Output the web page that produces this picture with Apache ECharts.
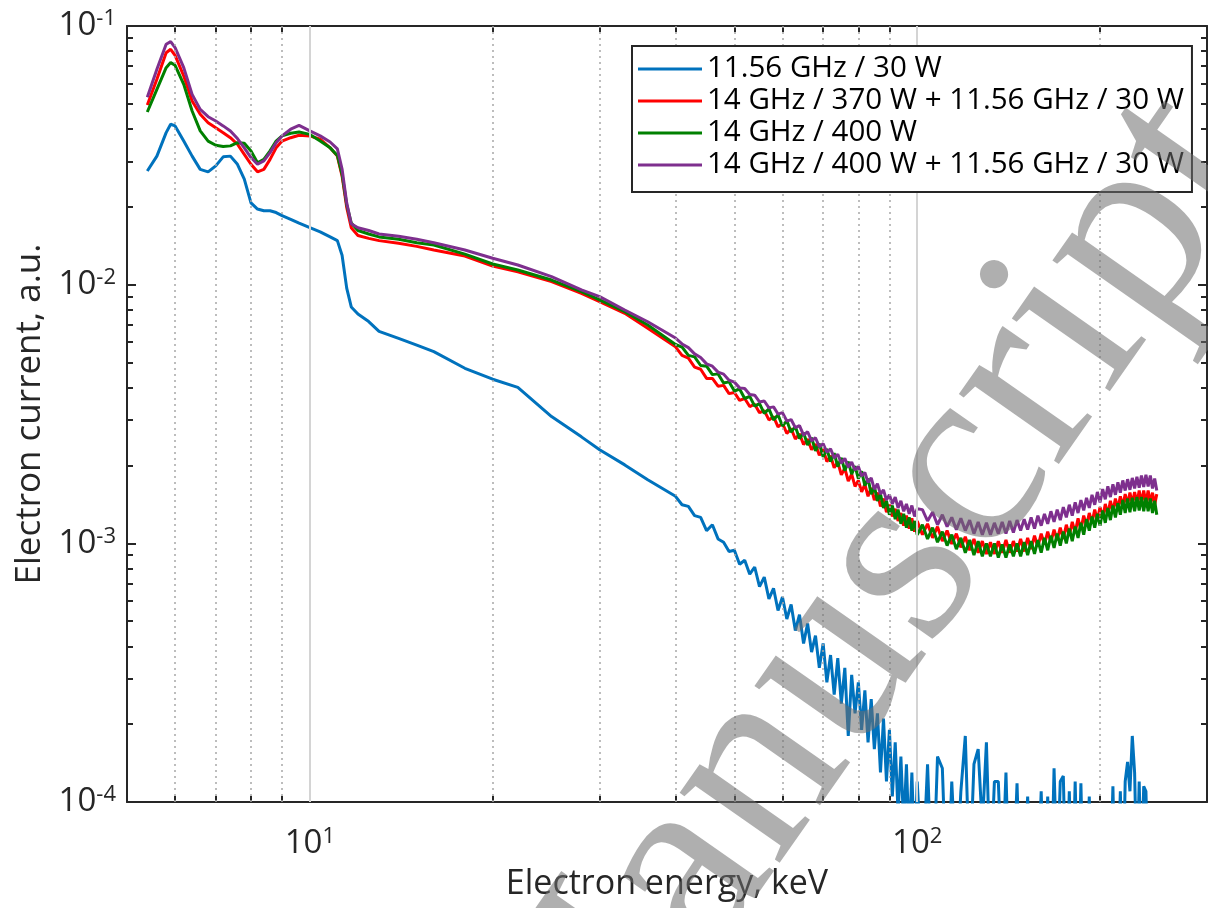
<!DOCTYPE html>
<html>
<head>
<meta charset="utf-8">
<script src="https://cdn.jsdelivr.net/npm/echarts@6/dist/echarts.min.js"></script>
<style>
html,body{margin:0;padding:0;background:#fff;}
#chart{width:1208px;height:908px;}
</style>
</head>
<body>
<div id="chart"></div>
<script>
// Electron energy (keV)
const energy = [5.4,5.6,5.8,5.9,6.0,6.2,6.4,6.6,6.8,7.0,7.2,7.4,7.6,7.8,8.0,8.2,8.4,8.6,8.8,9.0,9.3,9.6,10,10.4,10.8,11.1,11.3,11.5,11.7,12.0,12.5,13,14,15,16,18,20,22,25,28,30,33,36,
40,41,42,43,44,45,46,47,48,49,50,51,52,53,54,55,56,57,58,59,60,61,62,63,64,65,66,67,68,69,70,71,72,73,74,75,76,77,78,79,80,81,82,83,84,85,86,87,88,89,90,91,92,93,94,95,96,97,98,99,100,
102,104,106,108,110,112,114,116,118,120,122,124,126,128,130,132,134,136,138,140,142,144,146,148,150,152,154,156,158,160,162,164,166,168,170,172,174,176,178,180,182,184,186,188,190,192,194,196,198,200,202,204,206,208,210,212,214,216,218,220,222,224,226,228,230,232,234,236,238,240,242,244,246,248];

const seriesNames = ['11.56 GHz / 30 W','14 GHz / 370 W + 11.56 GHz / 30 W','14 GHz / 400 W','14 GHz / 400 W + 11.56 GHz / 30 W'];
const seriesColors = ['#0072BD','#FF0000','#008000','#7E2F8E'];

const blue = [0.0275,0.0314,0.0387,0.0417,0.0411,0.0359,0.0314,0.0279,0.0273,0.0288,0.0312,0.0314,0.0292,0.0256,0.0207,0.0196,0.0193,0.0193,0.019,0.0185,0.0179,0.0173,0.0166,0.016,0.0153,0.0148,0.013,0.0097,0.0082,0.0077,0.0072,0.0066,0.0062,0.00584,0.00551,0.00475,0.00431,0.00401,0.00309,0.00258,0.0023,0.00201,0.00176,
0.00152,0.00141,0.00139,0.00128,0.00126,0.00112,0.00118,0.00104,0.00101,0.00093,0.00094,0.00083,0.00086,0.00076,0.00081,0.00068,0.00074,0.00061,0.00067,0.00055,0.00062,0.00051,0.00058,0.00046,0.00053,0.00041,0.00049,0.00038,0.00044,0.00033,0.00041,0.00029,0.00037,0.00026,0.00036,0.00024,0.00033,0.00018,0.00031,0.00022,0.00029,0.00019,0.00027,0.00017,0.00025,0.00016,0.00022,0.00013,0.00021,0.00012,0.00019,0.000105,0.00017,0.00009,0.00015,0.00008,0.00014,0.00007,0.00013,0.00006,0.00012,
0.00005,0.00014,0.00004,0.00015,0.000135,0.00004,0.00012,0.00005,0.00011,0.00018,0.00005,0.00014,0.00016,0.00008,0.00017,0.00005,0.00012,0.00012,0.00005,0.00013,0.00004,0.00005,0.000118,0.00004,0.00005,0.000105,0.00004,0.00004,0.00005,0.00011,0.00004,0.000105,0.00004,0.000135,0.00005,0.00012,0.000126,0.00004,0.00011,0.00004,0.00012,0.00004,0.000118,0.00004,0.00005,0.000105,0.00004,0.00004,0.00005,0.00004,0.00004,0.00005,0.00004,0.00005,0.000115,0.00004,0.00005,0.00011,0.00004,0.00012,0.000143,0.00011,0.00018,0.00013,0.00005,0.00012,0.00005,0.000115,0.00011,0.00005,0.00004,0.00004,0.00004,0.00004];

const red = [0.0495,0.0622,0.0788,0.0813,0.077,0.0641,0.0513,0.0456,0.0423,0.0404,0.0387,0.037,0.0349,0.0319,0.0292,0.0273,0.0279,0.0305,0.0338,0.0359,0.037,0.0378,0.0376,0.0365,0.0338,0.0314,0.0263,0.0199,0.0166,0.0155,0.0151,0.0148,0.01445,0.01406,0.01361,0.0129,0.0118,0.01122,0.01027,0.00926,0.0086,0.00775,0.00678,
0.00575,0.00533,0.00520,0.00480,0.00471,0.00434,0.00434,0.00405,0.00408,0.00379,0.00383,0.00357,0.00363,0.00338,0.00345,0.00320,0.00326,0.00300,0.00309,0.00282,0.00291,0.00266,0.00278,0.00253,0.00265,0.00241,0.00253,0.00230,0.00242,0.00219,0.00231,0.00207,0.00218,0.00196,0.00206,0.00184,0.00195,0.00174,0.00185,0.00166,0.00175,0.00158,0.00169,0.00152,0.00164,0.00147,0.00157,0.00139,0.00149,0.00132,0.00141,0.00127,0.00136,0.00122,0.00131,0.00117,0.00128,0.00114,0.00125,0.00111,0.00122,
0.00108,0.00119,0.00105,0.00116,0.00102,0.00112,0.000995,0.00109,0.000965,0.00106,0.00094,0.00104,0.00092,0.00102,0.00091,0.00101,0.00091,0.00102,0.00092,0.00103,0.00092,0.00102,0.00093,0.00104,0.00093,0.00105,0.00095,0.00107,0.00097,0.00109,0.00099,0.00111,0.00101,0.00113,0.00103,0.00115,0.00104,0.00118,0.00107,0.00121,0.0011,0.00125,0.00113,0.00128,0.00117,0.00131,0.0012,0.00135,0.00123,0.00138,0.00125,0.00142,0.00129,0.00146,0.00133,0.00149,0.00136,0.00152,0.00139,0.00155,0.00141,0.00157,0.00142,0.00158,0.00143,0.0016,0.00143,0.0016,0.00143,0.0016,0.00143,0.00157,0.00141,0.00155];

const green = [0.0465,0.0569,0.069,0.0722,0.0705,0.0595,0.0469,0.0393,0.0359,0.0346,0.0342,0.0344,0.0354,0.0352,0.0329,0.0296,0.0305,0.0329,0.0359,0.0376,0.0385,0.0389,0.0381,0.0359,0.0338,0.0316,0.0267,0.0204,0.0173,0.0162,0.0157,0.0153,0.01498,0.01453,0.01424,0.01313,0.01202,0.0114,0.01042,0.0094,0.00873,0.00786,0.00698,
0.00587,0.00574,0.00533,0.00526,0.00487,0.00484,0.00449,0.00452,0.00417,0.00421,0.00388,0.00395,0.00363,0.00370,0.00339,0.00347,0.00318,0.00331,0.00300,0.00314,0.00284,0.00298,0.00269,0.00283,0.00254,0.00268,0.00240,0.00256,0.00228,0.00243,0.00216,0.00232,0.00207,0.00223,0.00198,0.00214,0.00191,0.00207,0.00185,0.00199,0.00178,0.00190,0.00167,0.00178,0.00155,0.00166,0.00146,0.00155,0.00137,0.00146,0.00129,0.00140,0.00124,0.00135,0.00119,0.00130,0.00115,0.00126,0.00112,0.00122,0.00108,
0.00118,0.00104,0.00115,0.00101,0.00111,0.00098,0.00108,0.00095,0.00105,0.00092,0.00103,0.0009,0.00102,0.00089,0.001,0.00089,0.001,0.00088,0.00099,0.00088,0.00099,0.00089,0.001,0.00089,0.00101,0.0009,0.00102,0.00091,0.00103,0.00092,0.00105,0.00094,0.00107,0.00096,0.00109,0.00098,0.00111,0.001,0.00114,0.00102,0.00116,0.00105,0.0012,0.00108,0.00124,0.00112,0.00127,0.00115,0.0013,0.00117,0.00134,0.0012,0.00137,0.00123,0.0014,0.00126,0.00143,0.00129,0.00147,0.00131,0.00149,0.00132,0.0015,0.00133,0.00151,0.00134,0.00151,0.00133,0.0015,0.00133,0.00149,0.00131,0.00146,0.00129];

const purple = [0.053,0.068,0.085,0.087,0.0825,0.069,0.0544,0.0476,0.0446,0.0429,0.0411,0.0393,0.0367,0.0338,0.031,0.0292,0.0301,0.0324,0.0354,0.0376,0.0399,0.0413,0.0393,0.0376,0.0356,0.0335,0.028,0.0207,0.0172,0.0166,0.0162,0.0157,0.0154,0.01498,0.01453,0.01361,0.01265,0.01191,0.01074,0.00954,0.00899,0.00798,0.00719,
0.00622,0.00590,0.00571,0.00540,0.00523,0.00494,0.00484,0.00459,0.00451,0.00427,0.00420,0.00399,0.00397,0.00376,0.00374,0.00352,0.00355,0.00334,0.00337,0.00316,0.00320,0.00297,0.00301,0.00280,0.00285,0.00262,0.00270,0.00249,0.00256,0.00236,0.00243,0.00225,0.00232,0.00214,0.00221,0.00204,0.00213,0.00197,0.00206,0.00192,0.00198,0.00182,0.00188,0.00172,0.00179,0.00162,0.00170,0.00155,0.00161,0.00147,0.00154,0.00142,0.00151,0.00137,0.00146,0.00133,0.00142,0.00130,0.00140,0.00127,0.00136,
0.00135,0.00122,0.00132,0.00118,0.00129,0.00116,0.00126,0.00113,0.00125,0.00112,0.00123,0.00109,0.00121,0.00108,0.0012,0.00108,0.0012,0.00109,0.00121,0.00109,0.00122,0.0011,0.00123,0.00112,0.00124,0.00113,0.00126,0.00114,0.00128,0.00117,0.0013,0.00119,0.00133,0.00121,0.00135,0.00123,0.00138,0.00126,0.00141,0.00128,0.00144,0.00131,0.00147,0.00134,0.0015,0.00137,0.00154,0.00141,0.00158,0.00144,0.00162,0.00148,0.00166,0.00151,0.00169,0.00154,0.00172,0.00157,0.00175,0.0016,0.00177,0.00161,0.00179,0.00163,0.00181,0.00164,0.00183,0.00165,0.00184,0.00166,0.00183,0.00163,0.00178,0.0016];

// axis ticks / grid
const xMajorTicks = [10,100];
const xMinorTicks = [6,7,8,9,20,30,40,50,60,70,80,90,200];
const yMajorTicks = [1e-4,1e-3,1e-2,1e-1];
const yMinorTicks = [2e-4,3e-4,4e-4,5e-4,6e-4,7e-4,8e-4,9e-4,2e-3,3e-3,4e-3,5e-3,6e-3,7e-3,8e-3,9e-3,2e-2,3e-2,4e-2,5e-2,6e-2,7e-2,8e-2,9e-2];

const FONT = '"Open Sans", "DejaVu Sans", sans-serif';
const INK = '#262626';

const chart = echarts.init(document.getElementById('chart'), null, {renderer:'canvas'});

function powLabel(v){ return '{b|10}{s|' + Math.round(Math.log10(v)) + '}'; }
const richLab = {
  b:{fontSize:33, fontFamily:FONT, color:INK, lineHeight:36},
  s:{fontSize:22, fontFamily:FONT, color:INK, lineHeight:17, verticalAlign:'top'}
};

function xAx(pos, major, withLabel){
  return {
    type:'log', logBase:10, min:5, max:300, position:pos,
    axisLine:{show:major, onZero:false, lineStyle:{color:INK, width:2}},
    axisTick:{show:true, inside:true, length: major?9:6, customValues: major?xMajorTicks:xMinorTicks, lineStyle:{color:INK, width:2}},
    axisLabel:{show:withLabel, customValues:xMajorTicks, formatter:powLabel, rich:richLab, margin:24},
    splitLine:{show:false}, minorTick:{show:false},
    name: withLabel ? 'Electron energy, keV' : '',
    nameLocation:'middle', nameGap:65,
    nameTextStyle:{fontSize:34, fontFamily:FONT, color:INK}
  };
}
function yAx(pos, major, withLabel){
  return {
    type:'log', logBase:10, min:1e-4, max:1e-1, position:pos,
    axisLine:{show:major, onZero:false, lineStyle:{color:INK, width:2}},
    axisTick:{show:true, inside:true, length: major?9:6, customValues: major?yMajorTicks:yMinorTicks, lineStyle:{color:INK, width:2}},
    axisLabel:{show:withLabel, customValues:yMajorTicks, formatter:powLabel, rich:richLab, margin:11},
    splitLine:{show:false}, minorTick:{show:false},
    name: withLabel ? 'Electron current, a.u.' : '',
    nameLocation:'middle', nameGap:77, nameRotate:90,
    nameTextStyle:{fontSize:35, fontFamily:FONT, color:INK}
  };
}

const gridLineData = xMinorTicks.map(v => ({xAxis:v, lineStyle:{type:[2,4], color:'#a8a8a8', width:1.5}}))
  .concat(xMajorTicks.map(v => ({xAxis:v, lineStyle:{type:'solid', color:'#d4d4d4', width:2}})));

const dataSeries = [blue, red, green, purple].map((vals, i) => ({
  name: seriesNames[i], type:'line', xAxisIndex:0, yAxisIndex:0,
  data: energy.map((e, k) => [e, vals[k]]),
  showSymbol:false, symbol:'none', clip:true, z:3,
  lineStyle:{color:seriesColors[i], width:3},
  itemStyle:{color:seriesColors[i]},
  animation:false
}));

const option = {
  backgroundColor:'#ffffff',
  animation:false,
  grid:{left:127, right:1, top:26, bottom:106, containLabel:false},
  xAxis:[xAx('bottom', true, true), xAx('bottom', false, false), xAx('top', true, false), xAx('top', false, false)],
  yAxis:[yAx('left', true, true), yAx('left', false, false), yAx('right', true, false), yAx('right', false, false)],
  legend:{
    data: seriesNames, orient:'vertical', left:632, top:46,
    backgroundColor:'#ffffff', borderColor:INK, borderWidth:2, borderRadius:0,
    padding:[7,8,11,6], itemGap:0, itemWidth:64, itemHeight:3, icon:'rect',
    textStyle:{fontSize:29.5, fontFamily:FONT, color:'#000', lineHeight:32},
    z:20
  },
  series: [{
    name:'grid', type:'line', data:[], z:1, silent:true, animation:false,
    markLine:{silent:true, symbol:['none','none'], label:{show:false}, animation:false, data:gridLineData}
  }].concat(dataSeries),
  graphic:[{
    type:'text', x:863, y:622, rotation:55*Math.PI/180, z:100, silent:true,
    style:{text:'Manuscript', font:'266px "Liberation Serif", "DejaVu Serif", serif', fill:'rgba(110,110,110,0.55)', align:'center', verticalAlign:'middle'}
  }]
};
chart.setOption(option);
</script>
</body>
</html>
